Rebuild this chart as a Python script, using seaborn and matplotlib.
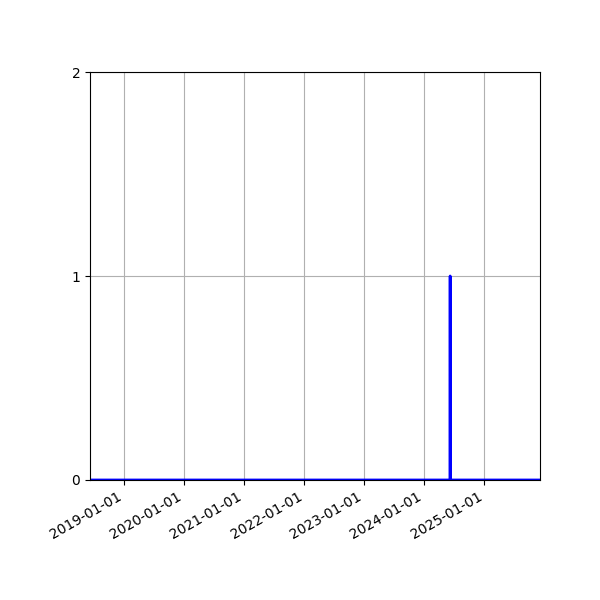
import seaborn as sns
import matplotlib.pyplot as plt
import matplotlib.dates as mdates
import pandas as pd

# key points of the series (zero everywhere except one spike)
dates = ["2018-06-06", "2024-06-06", "2024-06-07", "2024-06-08", "2025-12-06"]
values = [0, 0, 1, 0, 0]
yticks = [0, 1, 2]

df = pd.DataFrame({"date": pd.to_datetime(dates), "value": values})

fig, ax = plt.subplots(figsize=(6, 6), dpi=100)
sns.lineplot(x="date", y="value", data=df, ax=ax, color="blue", linewidth=2)

ax.set_xlim(df["date"].min(), df["date"].max())
ax.set_ylim(0, 2)
ax.set_yticks(yticks)
ax.xaxis.set_major_locator(mdates.YearLocator())
ax.xaxis.set_major_formatter(mdates.DateFormatter("%Y-%m-%d"))
ax.grid(True)
ax.set_xlabel("")
ax.set_ylabel("")

fig.autofmt_xdate()
fig.subplots_adjust(left=0.15, right=0.9, top=0.88, bottom=0.2)
fig.savefig("out.png", dpi=100)
